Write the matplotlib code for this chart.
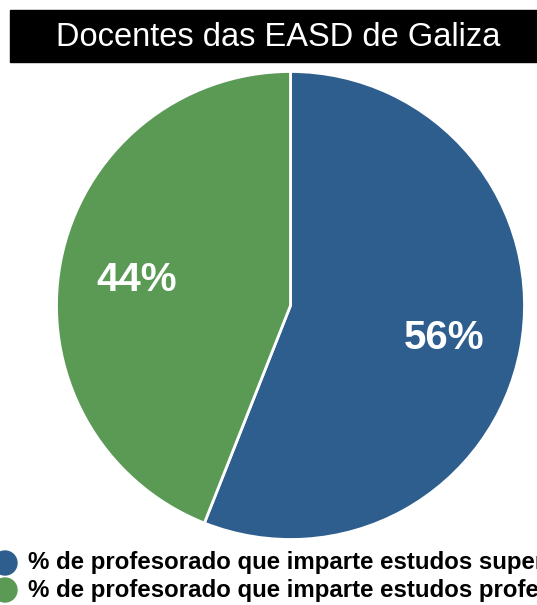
import matplotlib.pyplot as plt
from matplotlib.patches import Rectangle, Circle

# Data
labels = ['% de profesorado que imparte estudos superiores',
          '% de profesorado que imparte estudos profesionais']
values = [56, 44]
colors = ['#2e5e8e', '#5a9a55']
title = 'Docentes das EASD de Galiza'

plt.rcParams['font.family'] = ['Liberation Sans', 'DejaVu Sans']

W, H = 537, 605
fig = plt.figure(figsize=(W / 100, H / 100), dpi=100)

# Overlay in pixel coordinates for title box and legend
bg = fig.add_axes([0, 0, 1, 1])
bg.set_xlim(0, W)
bg.set_ylim(H, 0)
bg.axis('off')

bg.add_patch(Rectangle((10, 10), W, 52, color='black'))
bg.text(278, 37, title, color='white', fontsize=23.5, ha='center', va='center')

# Pie
cx, cy, r = 290.5, 305.5, 234
ax = fig.add_axes([(cx - r) / W, (H - cy - r) / H, 2 * r / W, 2 * r / H])
wedges, _, autotexts = ax.pie(values, colors=colors, startangle=90, counterclock=False,
                              autopct='%d%%', pctdistance=0.67,
                              wedgeprops=dict(edgecolor='white', linewidth=2))
for t in autotexts:
    t.set_color('white')
    t.set_fontsize(29)
    t.set_fontweight('bold')
    x, y = t.get_position()
    t.set_position((x, y - 0.015))
ax.set_xlim(-1, 1)
ax.set_ylim(-1, 1)
ax.set_aspect('equal')

# Legend (runs off the right edge like the original)
for i, (lab, col) in enumerate(zip(labels, colors)):
    y = 563 + i * 27
    bg.add_patch(Circle((5, y), 12, color=col))
    bg.text(28, y, lab, fontsize=17.3, fontweight='bold', ha='left', va='center', color='black')

fig.savefig('out.png', dpi=100)
